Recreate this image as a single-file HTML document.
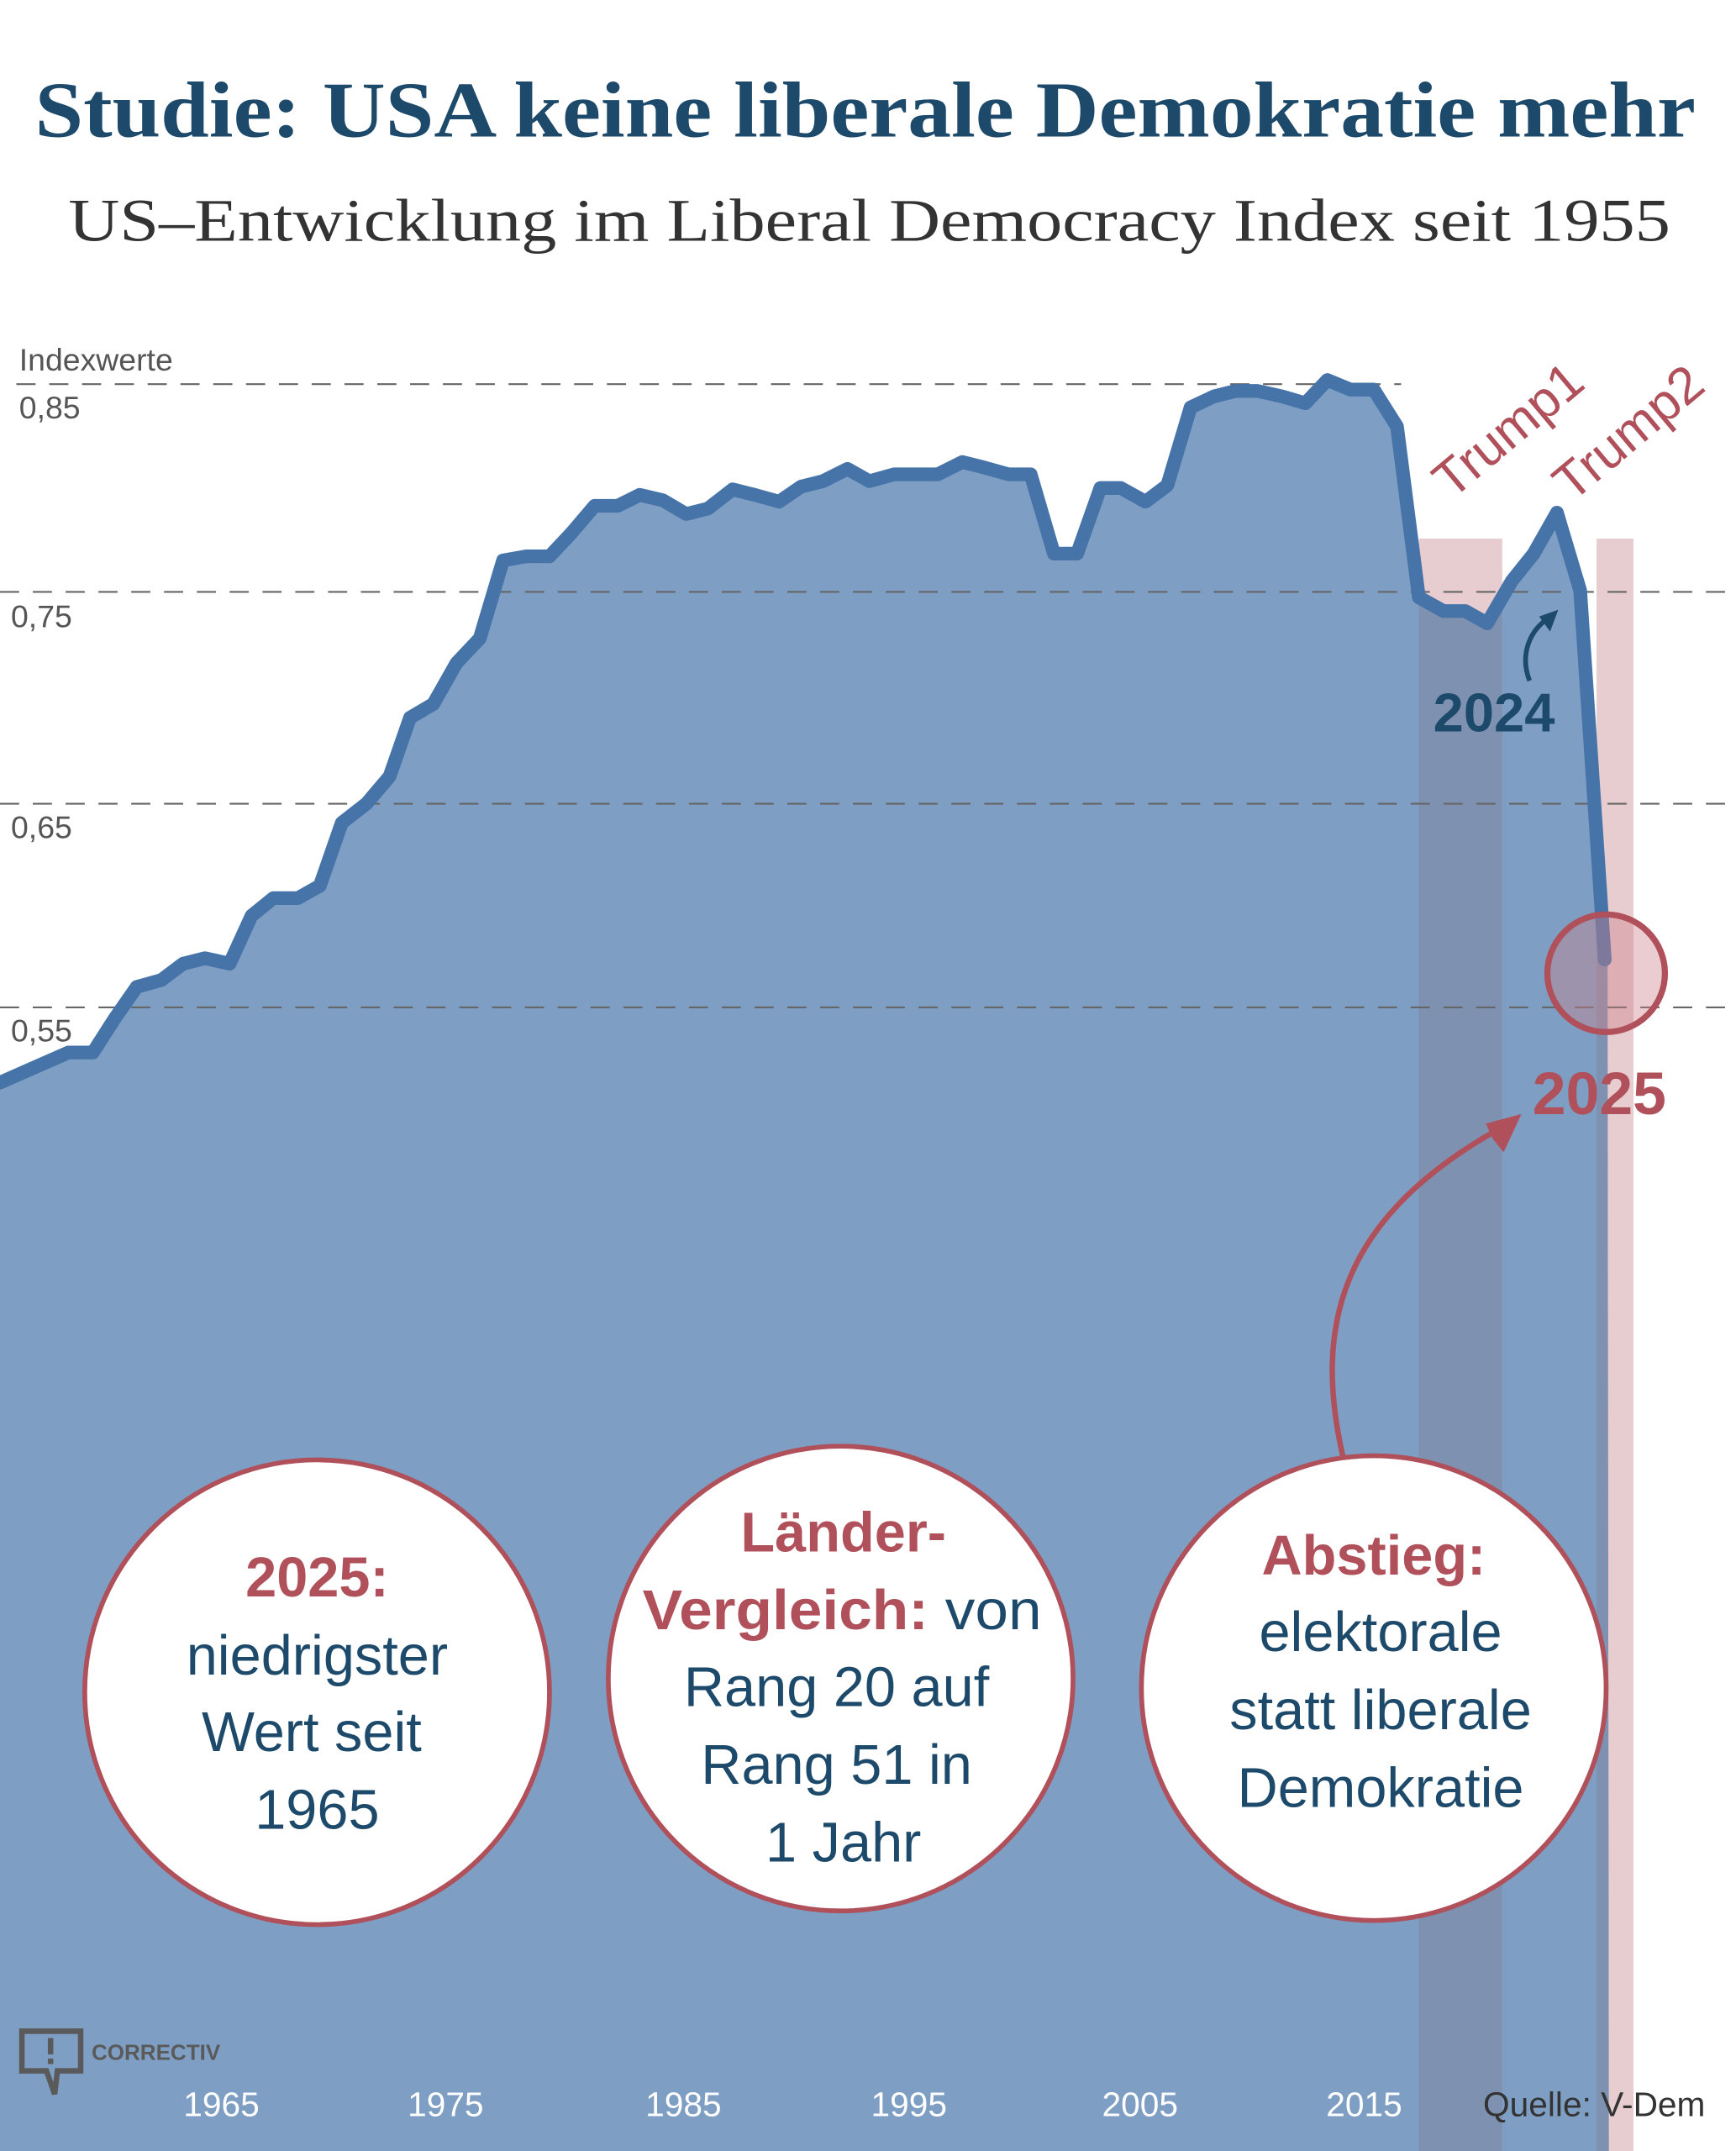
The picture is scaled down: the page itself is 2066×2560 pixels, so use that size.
<!DOCTYPE html>
<html><head><meta charset="utf-8"><style>html,body{margin:0;padding:0;background:#fff}svg{display:block}</style></head>
<body>
<svg width="2066" height="2560" viewBox="0 0 1270 1573.6" xmlns="http://www.w3.org/2000/svg">
<defs>
<clipPath id="ac"><path id="areaPath" d="M0,792 L50,770 L68,770 L84,745 L100,722 L118,717 L134,705 L150,701 L168,705 L184,670 L200,657 L218,657 L234,648 L250,602 L268,588 L285,568 L300,525 L317,515 L334,485 L351,467 L368,410 L385,407 L402,407 L418,390 L435,370 L452,370 L468,362 L485,366 L502,376 L518,372 L536,358 L552,362 L570,367 L586,356 L602,352 L620,343 L636,352 L654,347 L670,347 L686,347 L704,338 L720,342 L738,347 L754,347 L771,405 L788,405 L805,357 L820,357 L838,367 L854,355 L871,298 L888,290 L904,286 L920,286 L938,290 L955,295 L971,278 L988,285 L1005,285 L1022,312 L1038,437 L1056,447 L1072,447 L1088,456 L1106,425 L1122,405 L1139,375 L1156,432 L1176,702 L1177,1573.6 L0,1573.6 Z"/></clipPath>
</defs>
<text x="633" y="100" text-anchor="middle" font-family="Liberation Serif, serif" font-weight="bold" font-size="58" fill="#1d4a6b" textLength="1215" lengthAdjust="spacingAndGlyphs">Studie: USA keine liberale Demokratie mehr</text>
<text x="636" y="176" text-anchor="middle" font-family="Liberation Serif, serif" font-size="44" fill="#333" textLength="1172" lengthAdjust="spacingAndGlyphs">US–Entwicklung im Liberal Democracy Index seit 1955</text>

<rect x="1038" y="394" width="61" height="1180" fill="#e8cdd0"/>
<rect x="1168" y="394" width="27" height="1180" fill="#e8cdd0"/>
<path d="M0,792 L50,770 L68,770 L84,745 L100,722 L118,717 L134,705 L150,701 L168,705 L184,670 L200,657 L218,657 L234,648 L250,602 L268,588 L285,568 L300,525 L317,515 L334,485 L351,467 L368,410 L385,407 L402,407 L418,390 L435,370 L452,370 L468,362 L485,366 L502,376 L518,372 L536,358 L552,362 L570,367 L586,356 L602,352 L620,343 L636,352 L654,347 L670,347 L686,347 L704,338 L720,342 L738,347 L754,347 L771,405 L788,405 L805,357 L820,357 L838,367 L854,355 L871,298 L888,290 L904,286 L920,286 L938,290 L955,295 L971,278 L988,285 L1005,285 L1022,312 L1038,437 L1056,447 L1072,447 L1088,456 L1106,425 L1122,405 L1139,375 L1156,432 L1176,702 L1177,1573.6 L0,1573.6 Z" fill="#7e9ec4"/>
<g clip-path="url(#ac)"><rect x="1038" y="0" width="61" height="1574" fill="#7f91b0"/><rect x="1168" y="0" width="9" height="1574" fill="#7f91b0"/></g>

<g stroke="#666" stroke-width="1.3" stroke-dasharray="14 10" fill="none">
<line x1="12" y1="281" x2="1025" y2="281"/>
<line x1="0" y1="433" x2="1270" y2="433"/>
<line x1="0" y1="588" x2="1270" y2="588"/>
<line x1="0" y1="737" x2="1270" y2="737"/>
</g>
<g font-family="Liberation Sans, sans-serif" font-size="23" fill="#555">
<text x="14" y="271">Indexwerte</text>
<text x="14" y="306">0,85</text>
<text x="8" y="459">0,75</text>
<text x="8" y="613">0,65</text>
<text x="8" y="762">0,55</text>
</g>

<polyline fill="none" stroke="#4674a9" stroke-width="10" stroke-linejoin="round" stroke-linecap="round" points="0,792 50,770 68,770 84,745 100,722 118,717 134,705 150,701 168,705 184,670 200,657 218,657 234,648 250,602 268,588 285,568 300,525 317,515 334,485 351,467 368,410 385,407 402,407 418,390 435,370 452,370 468,362 485,366 502,376 518,372 536,358 552,362 570,367 586,356 602,352 620,343 636,352 654,347 670,347 686,347 704,338 720,342 738,347 754,347 771,405 788,405 805,357 820,357 838,367 854,355 871,298 888,290 904,286 920,286 938,290 955,295 971,278 988,285 1005,285 1022,312 1038,437 1056,447 1072,447 1088,456 1106,425 1122,405 1139,375 1156,432 1174,702"/>
<circle cx="1175" cy="712" r="43" fill="rgba(205,130,140,0.4)" stroke="#b0505a" stroke-width="4.5"/>

<g font-family="Liberation Sans, sans-serif" font-size="38" fill="#b0505a">
<text transform="translate(1062,366) rotate(-40)">Trump1</text>
<text transform="translate(1150,368) rotate(-40)">Trump2</text>
</g>
<text x="1093" y="535" text-anchor="middle" font-family="Liberation Sans, sans-serif" font-weight="bold" font-size="40" fill="#1d4a6b">2024</text>
<path d="M1119,498 C1112,480 1118,462 1133,452" fill="none" stroke="#1d4a6b" stroke-width="3.5"/>
<path d="M1140,446 L1126,451 L1134,462 Z" fill="#1d4a6b"/>
<text x="1170" y="815" text-anchor="middle" font-family="Liberation Sans, sans-serif" font-weight="bold" font-size="44" fill="#b0505a">2025</text>
<path d="M983,1068 C960,970 980,890 1100,824" fill="none" stroke="#b0505a" stroke-width="4"/>
<path d="M1113,815 L1087,822 L1092,833 L1100,843 Z" fill="#b0505a"/>

<g stroke="#b0505a" stroke-width="3.5" fill="#fff">
<circle cx="232" cy="1238" r="170"/>
<circle cx="615" cy="1228" r="170"/>
<circle cx="1005" cy="1235" r="170"/>
</g>
<g font-family="Liberation Sans, sans-serif" font-size="41" fill="#1d4a6b" text-anchor="middle">
<text x="232" y="1168" font-weight="bold" fill="#b0505a">2025:</text>
<text x="232" y="1225">niedrigster</text>
<text x="228" y="1281">Wert seit</text>
<text x="232" y="1338">1965</text>
<text x="617" y="1135" font-weight="bold" fill="#b0505a">Länder-</text>
<text x="616" y="1192" textLength="292" lengthAdjust="spacingAndGlyphs"><tspan font-weight="bold" fill="#b0505a">Vergleich:</tspan> von</text>
<text x="612" y="1248">Rang 20 auf</text>
<text x="612" y="1305">Rang 51 in</text>
<text x="617" y="1362">1 Jahr</text>
<text x="1005" y="1152" font-weight="bold" fill="#b0505a">Abstieg:</text>
<text x="1010" y="1208">elektorale</text>
<text x="1010" y="1265">statt liberale</text>
<text x="1010" y="1322">Demokratie</text>
</g>

<g font-family="Liberation Sans, sans-serif" font-size="25" fill="#fff" text-anchor="middle">
<text x="162" y="1548">1965</text>
<text x="326" y="1548">1975</text>
<text x="500" y="1548">1985</text>
<text x="665" y="1548">1995</text>
<text x="834" y="1548">2005</text>
<text x="998" y="1548">2015</text>
</g>
<text x="1085" y="1548" font-family="Liberation Sans, sans-serif" font-size="25" fill="#333">Quelle: V-Dem</text>
<path d="M16,1486 L59,1486 L59,1515 L42,1515 L40,1532 L34,1515 L16,1515 Z" fill="none" stroke="#5a5a5a" stroke-width="4"/>
<rect x="35" y="1491" width="4" height="12" fill="#5a5a5a"/><rect x="35" y="1506" width="4" height="4" fill="#5a5a5a"/>
<text x="67" y="1507" font-family="Liberation Sans, sans-serif" font-weight="bold" font-size="16" fill="#5a5a5a">CORRECTIV</text>
</svg>
</body></html>
